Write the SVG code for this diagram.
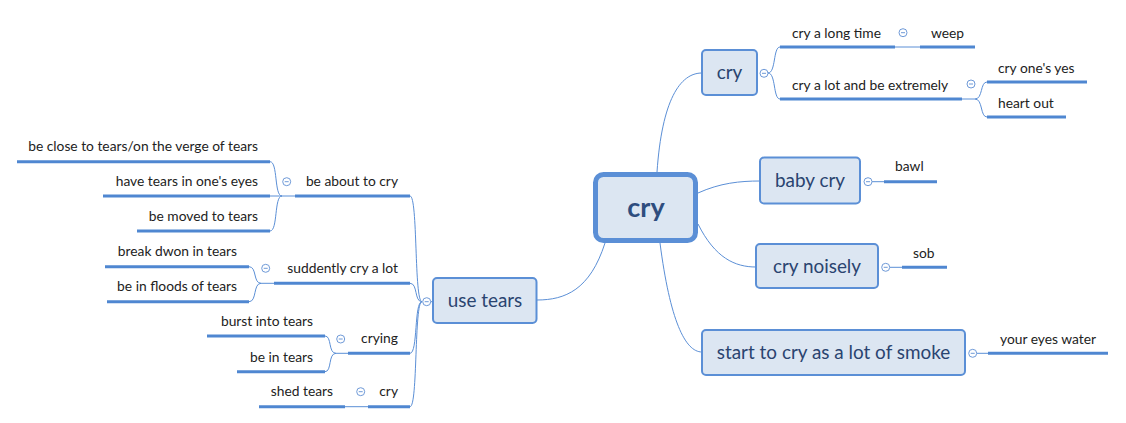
<svg xmlns="http://www.w3.org/2000/svg" width="1126" height="423" viewBox="0 0 1126 423">
<style>
.bg{fill:#ffffff}
.box{fill:#dce6f2;stroke:#5b8fd6;stroke-width:2}
.main{fill:#dce6f2;stroke:#5b8fd6;stroke-width:5}
.bt{font-family:Lato,"Liberation Sans",sans-serif;font-size:18.9px;fill:#2a4470;text-anchor:middle}
.ct{font-family:Lato,"Liberation Sans",sans-serif;font-size:27px;font-weight:bold;fill:#2e4d7e;text-anchor:middle}
.lt{font-family:Lato,"Liberation Sans",sans-serif;font-size:13.8px;fill:#222222}
.e{text-anchor:end}
.m{text-anchor:middle}
.ul{stroke:#4f87d1;stroke-width:3;fill:none}
.cn{stroke:#5b8fd6;stroke-width:1;fill:none}
.tg{fill:#ffffff;stroke:#6f9ad8;stroke-width:1}
.tm{stroke:#6f9ad8;stroke-width:1}
</style>
<rect class="bg" x="0" y="0" width="1126" height="423"/>
<g id="connectors">
<path class="cn" d="M657,172 C662,100 680,73 702,73"/>
<path class="cn" d="M698,193 C720,183 740,181 760,181"/>
<path class="cn" d="M698,224 C715,258 735,267 756,267"/>
<path class="cn" d="M660,243 C670,320 685,352 702,352"/>
<path class="cn" d="M605,243 C590,290 565,300 537,300"/>
<path class="cn" d="M768,73 C776,73 773,47 780,47"/>
<path class="cn" d="M768,73 C776,73 773,99 780,99"/>
<path class="cn" d="M895,47 L920,47"/>
<path class="cn" d="M962,99 L975,99"/>
<path class="cn" d="M975,99 C983,99 980,82 987,82"/>
<path class="cn" d="M975,99 C983,99 980,117 987,117"/>
<path class="cn" d="M872,181.7 L884,181.7"/>
<path class="cn" d="M890,267.3 L902,267.3"/>
<path class="cn" d="M977,353.3 L988,353.3"/>
<path class="cn" d="M431,301.7 L433,301.7"/>
<path class="cn" d="M422,301.7 C414,301.7 418,196 410,196"/>
<path class="cn" d="M422,301.7 C414,301.7 418,283.3 410,283.3"/>
<path class="cn" d="M422,301.7 C414,301.7 418,353.3 410,353.3"/>
<path class="cn" d="M422,301.7 C414,301.7 418,406.7 410,406.7"/>
<path class="cn" d="M295,196 L282,196"/>
<path class="cn" d="M282,196 C274,196 278,161.7 270,161.7"/>
<path class="cn" d="M282,196 L270,196"/>
<path class="cn" d="M282,196 C274,196 278,231 270,231"/>
<path class="cn" d="M274,283.3 L261,283.3"/>
<path class="cn" d="M261,283.3 C253,283.3 257,266.7 249,266.7"/>
<path class="cn" d="M261,283.3 C253,283.3 257,301.7 249,301.7"/>
<path class="cn" d="M348,353.3 L336,353.3"/>
<path class="cn" d="M336,353.3 C328,353.3 332,336 325,336"/>
<path class="cn" d="M336,353.3 C328,353.3 332,371.7 325,371.7"/>
<path class="cn" d="M368,406.7 L345,406.7"/>
</g>
<g id="n-central"><rect class="main" x="595.5" y="174.5" width="100" height="66" rx="8"/><text class="ct" x="646" y="217">cry</text></g>
<g id="n-cry"><rect class="box" x="702" y="50" width="55" height="45" rx="4"/><text class="bt" x="729.5" y="79">cry</text>
<circle class="tg" cx="764" cy="73.3" r="4"/><line class="tm" x1="762" y1="73.3" x2="766" y2="73.3"/></g>
<g id="n-longtime"><path class="ul" d="M780,47 L895,47"/><text class="lt" x="792" y="38">cry a long time</text>
<circle class="tg" cx="903" cy="32.7" r="4"/><line class="tm" x1="901" y1="32.7" x2="905" y2="32.7"/></g>
<g id="n-weep"><path class="ul" d="M920,47 L975,47"/><text class="lt" x="931" y="38">weep</text></g>
<g id="n-alot"><path class="ul" d="M780,99 L962,99"/><text class="lt" x="792" y="90">cry a lot and be extremely</text>
<circle class="tg" cx="971" cy="84" r="4"/><line class="tm" x1="969" y1="84" x2="973" y2="84"/></g>
<g id="n-yes"><path class="ul" d="M987,82 L1087,82"/><text class="lt" x="998" y="73">cry one's yes</text></g>
<g id="n-heart"><path class="ul" d="M987,117 L1066,117"/><text class="lt" x="998" y="108">heart out</text></g>
<g id="n-baby"><rect class="box" x="760" y="157.5" width="100" height="46" rx="4"/><text class="bt" x="810" y="187">baby cry</text>
<circle class="tg" cx="868" cy="181.7" r="4"/><line class="tm" x1="866" y1="181.7" x2="870" y2="181.7"/></g>
<g id="n-bawl"><path class="ul" d="M884,181.7 L937,181.7"/><text class="lt" x="895" y="171">bawl</text></g>
<g id="n-noisely"><rect class="box" x="756" y="244" width="122" height="44" rx="4"/><text class="bt" x="817" y="273">cry noisely</text>
<circle class="tg" cx="885.7" cy="267.3" r="4"/><line class="tm" x1="883.7" y1="267.3" x2="887.7" y2="267.3"/></g>
<g id="n-sob"><path class="ul" d="M902,267.3 L947,267.3"/><text class="lt" x="913" y="258">sob</text></g>
<g id="n-smoke"><rect class="box" x="702" y="330" width="263" height="45" rx="4"/><text class="bt" x="833.5" y="359">start to cry as a lot of smoke</text>
<circle class="tg" cx="972.7" cy="353.3" r="4"/><line class="tm" x1="970.7" y1="353.3" x2="974.7" y2="353.3"/></g>
<g id="n-water"><path class="ul" d="M988,353.3 L1108,353.3"/><text class="lt" x="1000" y="344">your eyes water</text></g>
<g id="n-usetears"><rect class="box" x="433" y="278" width="103.5" height="45" rx="4"/><text class="bt" x="485" y="307">use tears</text>
<circle class="tg" cx="426.7" cy="301.7" r="4"/><line class="tm" x1="424.7" y1="301.7" x2="428.7" y2="301.7"/></g>
<g id="n-about"><path class="ul" d="M295,196 L410,196"/><text class="lt e" x="398" y="186">be about to cry</text>
<circle class="tg" cx="286.7" cy="181.7" r="4"/><line class="tm" x1="284.7" y1="181.7" x2="288.7" y2="181.7"/></g>
<g id="n-close"><path class="ul" d="M17,161.7 L270,161.7"/><text class="lt e" x="258" y="151">be close to tears/on the verge of tears</text></g>
<g id="n-have"><path class="ul" d="M103,196 L270,196"/><text class="lt e" x="258" y="186">have tears in one's eyes</text></g>
<g id="n-moved"><path class="ul" d="M137,231 L270,231"/><text class="lt e" x="258" y="221">be moved to tears</text></g>
<g id="n-suddenly"><path class="ul" d="M274,283.3 L410,283.3"/><text class="lt e" x="398" y="273">suddently cry a lot</text>
<circle class="tg" cx="265.7" cy="268.3" r="4"/><line class="tm" x1="263.7" y1="268.3" x2="267.7" y2="268.3"/></g>
<g id="n-break"><path class="ul" d="M105,266.7 L249,266.7"/><text class="lt e" x="237" y="256">break dwon in tears</text></g>
<g id="n-floods"><path class="ul" d="M107,301.7 L249,301.7"/><text class="lt e" x="237" y="291">be in floods of tears</text></g>
<g id="n-crying"><path class="ul" d="M348,353.3 L410,353.3"/><text class="lt e" x="398" y="343">crying</text>
<circle class="tg" cx="340.7" cy="339" r="4"/><line class="tm" x1="338.7" y1="339" x2="342.7" y2="339"/></g>
<g id="n-burst"><path class="ul" d="M207,336 L325,336"/><text class="lt e" x="313" y="326">burst into tears</text></g>
<g id="n-intears"><path class="ul" d="M237,371.7 L325,371.7"/><text class="lt e" x="313" y="362">be in tears</text></g>
<g id="n-cry2"><path class="ul" d="M368,406.7 L410,406.7"/><text class="lt e" x="398" y="396">cry</text>
<circle class="tg" cx="360.7" cy="391.7" r="4"/><line class="tm" x1="358.7" y1="391.7" x2="362.7" y2="391.7"/></g>
<g id="n-shed"><path class="ul" d="M259,406.7 L345,406.7"/><text class="lt e" x="333" y="396">shed tears</text></g>
</svg>
